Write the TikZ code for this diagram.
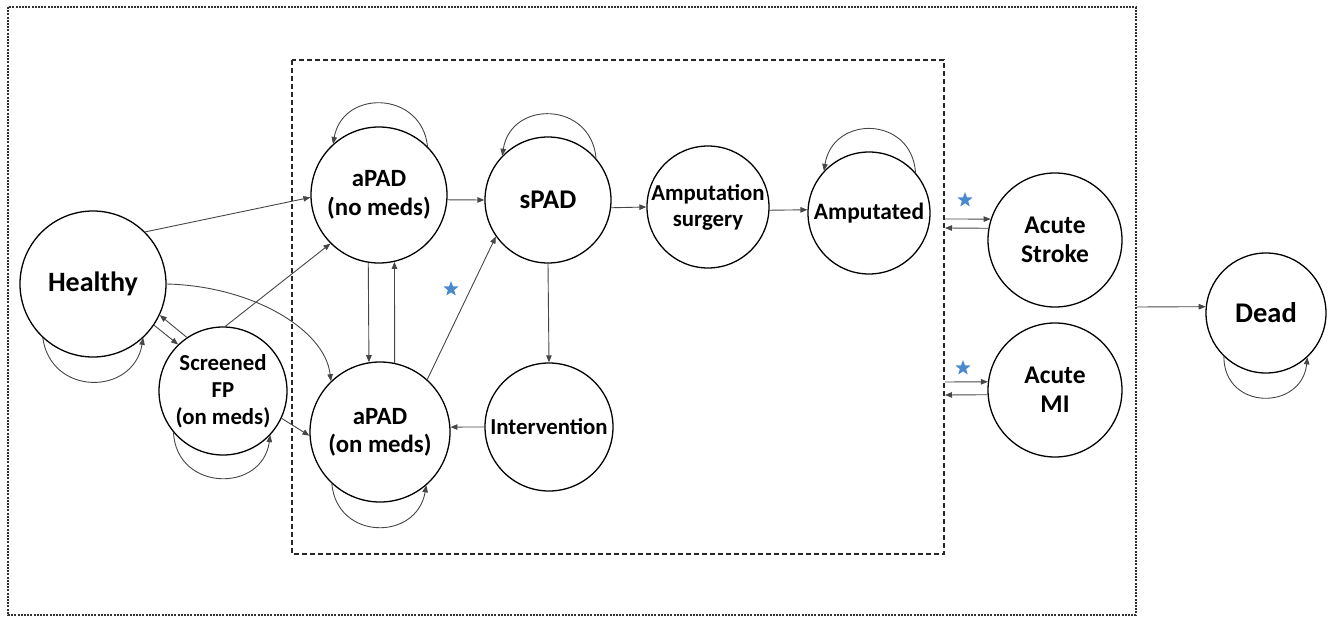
\documentclass[tikz,border=0pt]{standalone}
\usepackage{fontspec}
\setmainfont{Carlito}
\usetikzlibrary{arrows.meta,shapes.geometric}
\definecolor{starblue}{RGB}{74,137,206}
\definecolor{linegray}{RGB}{70,70,70}
\begin{document}
\begin{tikzpicture}[x=1pt,y=1pt,
  state/.style={circle,draw=black,line width=1.3pt,inner sep=0pt,align=center,
    font=\bfseries\fontsize{22.8}{27}\selectfont},
  conn/.style={draw=linegray,line width=0.9pt,-{Triangle[length=7pt,width=5.5pt]}},
  starmark/.style={star,star points=5,star point ratio=2.4,fill=starblue,draw=none,
    minimum size=16pt,inner sep=0pt},
  outerbox/.style={draw=black!80,line width=1.3pt,dash pattern=on 2pt off 1.2pt},
  innerbox/.style={draw=black!85,line width=1.3pt,dash pattern=on 5pt off 3pt},
]
\useasboundingbox (0,0) rectangle (1334,-618);

% boxes
\draw[outerbox] (8,-7) rectangle (1136,-615);
\draw[innerbox] (292,-60) rectangle (944,-554);

% states
\node[state,minimum size=146pt,font=\bfseries\fontsize{28}{32}\selectfont] (H) at (93,-284) {Healthy};
\node[state,minimum size=128pt] (S) at (223,-391) {Screened\\FP\\(on meds)};
\node[state,minimum size=136pt,font=\bfseries\fontsize{24.8}{28.5}\selectfont] (A1) at (379,-195) {aPAD\\(no meds)};
\node[state,minimum size=140pt,font=\bfseries\fontsize{24.8}{28}\selectfont] (A2) at (380,-432) {aPAD\\(on meds)};
\node[state,minimum size=126pt,font=\bfseries\fontsize{27}{30}\selectfont] (SP) at (548,-200) {sPAD};
\node[state,minimum size=128pt] (IV) at (549,-427) {Intervention};
\node[state,minimum size=122pt,font=\bfseries\fontsize{22.8}{26}\selectfont] (AS) at (708,-207) {Amputation\\surgery};
\node[state,minimum size=122pt,font=\bfseries\fontsize{23.5}{27}\selectfont] (AM) at (869,-213) {Amputated};
\node[state,minimum size=134pt,font=\bfseries\fontsize{25.5}{29}\selectfont] (ST) at (1055,-240) {Acute\\Stroke};
\node[state,minimum size=134pt,font=\bfseries\fontsize{25.5}{29}\selectfont] (MI) at (1055,-390) {Acute\\MI};
\node[state,minimum size=120pt,font=\bfseries\fontsize{28.5}{32}\selectfont] (D) at (1266,-313) {Dead};

% stars
\node[starmark] (st1) at (451,-289) {};
\node[starmark] (st2) at (965,-200) {};
\node[starmark] (st3) at (963,-368) {};

% free ends on the boxes
\coordinate (stIn) at (945,-219);
\coordinate (stOut) at (945,-228);
\coordinate (miIn) at (945,-382);
\coordinate (miOut) at (945,-395);
\coordinate (deadIn) at (1137,-307);

% transitions
\draw[conn] (H.45) -- (A1.182);
\draw[conn] (S.88) -- (A1.225);
\draw[conn] (H.0) .. controls +(85,-2) and +(-6,52) .. (A2.134);
\draw[conn] (S.335) -- (A2.183);
\draw[conn] (S.124) -- (H.335);
\draw[conn] (H.326) -- (S.134);
\draw[conn] (A1.356) -- (SP.180);
\draw[conn] (A1.261) -- (A2.99);
\draw[conn] (A2.78) -- (A1.283);
\draw[conn] (A2.48) -- (SP.215);
\draw[conn] (SP.270) -- (IV.90);
\draw[conn] (IV.180) -- (A2.4);
\draw[conn] (SP.353) -- (AS.180);
\draw[conn] (AS.357) -- (AM.177);
\draw[conn] (stIn) -- (ST.162);
\draw[conn] (ST.170) -- (stOut);
\draw[conn] (miIn) -- (MI.173);
\draw[conn] (MI.184) -- (miOut);
\draw[conn] (deadIn) -- (D.174);

% self loops
\draw[conn] (H.227) .. controls +(278:59) and +(260:59) .. (H.313);
\draw[conn] (S.220) .. controls +(273:59) and +(262:59) .. (S.317);
\draw[conn] (A2.227) .. controls +(275:57) and +(260:57) .. (A2.311);
\draw[conn] (D.226) .. controls +(270:54) and +(264:54) .. (D.313);
\draw[conn] (SP.41) .. controls +(95:57) and +(81:57) .. (SP.136);
\draw[conn] (A1.45) .. controls +(96:56) and +(80:56) .. (A1.132);
\draw[conn] (AM.41) .. controls +(94:57) and +(81:57) .. (AM.137);
\end{tikzpicture}
\end{document}
